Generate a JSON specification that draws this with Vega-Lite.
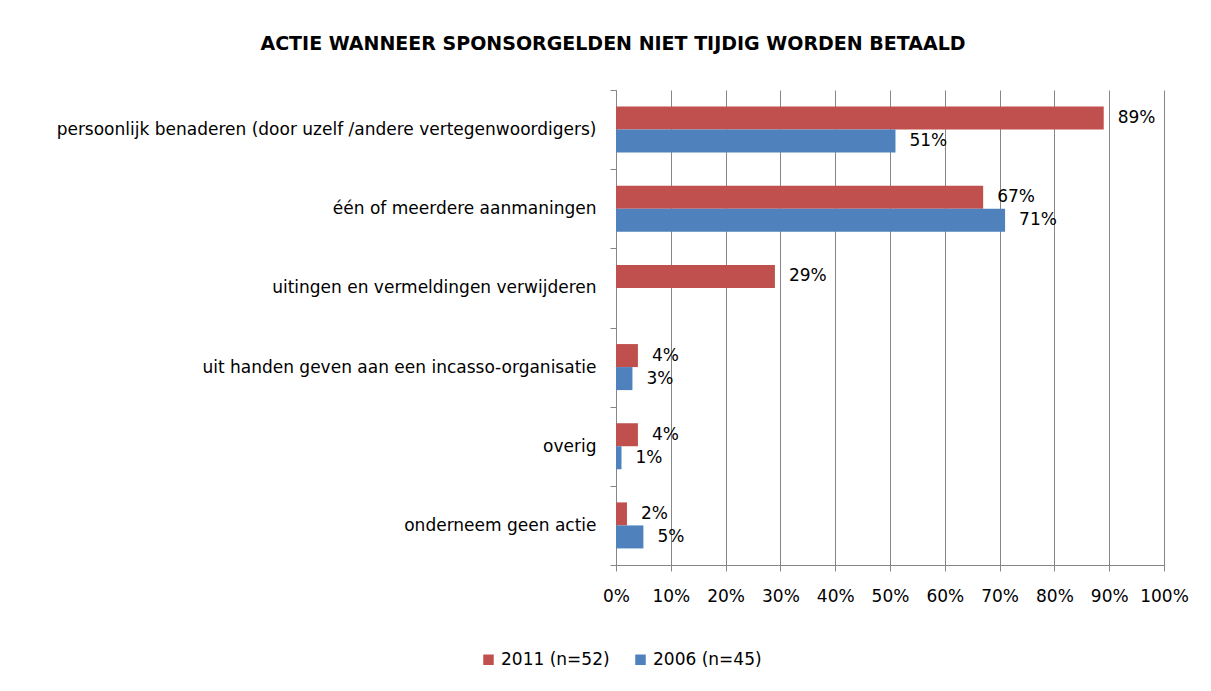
{
  "$schema": "https://vega.github.io/schema/vega-lite/v6.json",
  "width": 548,
  "height": 475,
  "autosize": {"type": "none"},
  "padding": {"left": 616, "top": 90, "right": 47, "bottom": 126},
  "background": "white",
  "title": {
    "text": "ACTIE WANNEER SPONSORGELDEN NIET TIJDIG WORDEN BETAALD",
    "font": "DejaVu Sans",
    "fontSize": 19,
    "fontWeight": "bold",
    "color": "#000000",
    "anchor": "middle",
    "dx": -277,
    "offset": 27
  },
  "data": {
    "values": [
      {"actie": "persoonlijk benaderen (door uzelf /andere vertegenwoordigers)", "jaar": "2011 (n=52)", "pct": 0.89},
      {"actie": "persoonlijk benaderen (door uzelf /andere vertegenwoordigers)", "jaar": "2006 (n=45)", "pct": 0.51},
      {"actie": "één of meerdere aanmaningen", "jaar": "2011 (n=52)", "pct": 0.67},
      {"actie": "één of meerdere aanmaningen", "jaar": "2006 (n=45)", "pct": 0.71},
      {"actie": "uitingen en vermeldingen verwijderen", "jaar": "2011 (n=52)", "pct": 0.29},
      {"actie": "uit handen geven aan een incasso-organisatie", "jaar": "2011 (n=52)", "pct": 0.04},
      {"actie": "uit handen geven aan een incasso-organisatie", "jaar": "2006 (n=45)", "pct": 0.03},
      {"actie": "overig", "jaar": "2011 (n=52)", "pct": 0.04},
      {"actie": "overig", "jaar": "2006 (n=45)", "pct": 0.01},
      {"actie": "onderneem geen actie", "jaar": "2011 (n=52)", "pct": 0.02},
      {"actie": "onderneem geen actie", "jaar": "2006 (n=45)", "pct": 0.05}
    ]
  },
  "encoding": {
    "y": {
      "field": "actie",
      "type": "nominal",
      "sort": null,
      "scale": {"paddingInner": 0, "paddingOuter": 0},
      "axis": {
        "title": null,
        "labelFont": "DejaVu Sans",
        "labelFontSize": 17,
        "labelColor": "#000000",
        "labelPadding": 14,
        "labelLimit": 700,
        "tickBand": "extent",
        "tickSize": 6,
        "tickColor": "#868686",
        "domainColor": "#868686",
        "grid": false
      }
    },
    "yOffset": {
      "field": "jaar",
      "type": "nominal",
      "sort": ["2011 (n=52)", "2006 (n=45)"],
      "scale": {"domain": ["2011 (n=52)", "2006 (n=45)"], "paddingInner": 0, "paddingOuter": 0.72}
    },
    "x": {
      "field": "pct",
      "type": "quantitative",
      "scale": {"domain": [0, 1], "nice": false},
      "axis": {
        "title": null,
        "format": ".0%",
        "values": [0, 0.1, 0.2, 0.3, 0.4, 0.5, 0.6, 0.7, 0.8, 0.9, 1],
        "labelFont": "DejaVu Sans",
        "labelFontSize": 17,
        "labelColor": "#000000",
        "labelPadding": 17,
        "labelOverlap": false,
        "labelFlush": false,
        "tickSize": 6,
        "tickColor": "#868686",
        "domainColor": "#868686",
        "grid": true,
        "gridColor": "#868686",
        "gridOpacity": 1
      }
    }
  },
  "layer": [
    {
      "mark": {"type": "bar"},
      "encoding": {
        "color": {
          "field": "jaar",
          "type": "nominal",
          "scale": {"domain": ["2011 (n=52)", "2006 (n=45)"], "range": ["#C0504D", "#4F81BD"]},
          "legend": {
            "title": null,
            "orient": "none",
            "direction": "horizontal",
            "legendX": -136,
            "legendY": 561,
            "symbolType": "square",
            "symbolSize": 110,
            "symbolStrokeWidth": 0,
            "symbolOpacity": 1,
            "labelFont": "DejaVu Sans",
            "labelFontSize": 17,
            "labelColor": "#000000",
            "labelOffset": 4,
            "columnPadding": 22
          }
        }
      }
    },
    {
      "mark": {"type": "text", "align": "left", "baseline": "middle", "dx": 14, "font": "DejaVu Sans", "fontSize": 17, "color": "#000000"},
      "encoding": {
        "text": {"field": "pct", "type": "quantitative", "format": ".0%"}
      }
    }
  ],
  "config": {
    "view": {"stroke": null}
  }
}
